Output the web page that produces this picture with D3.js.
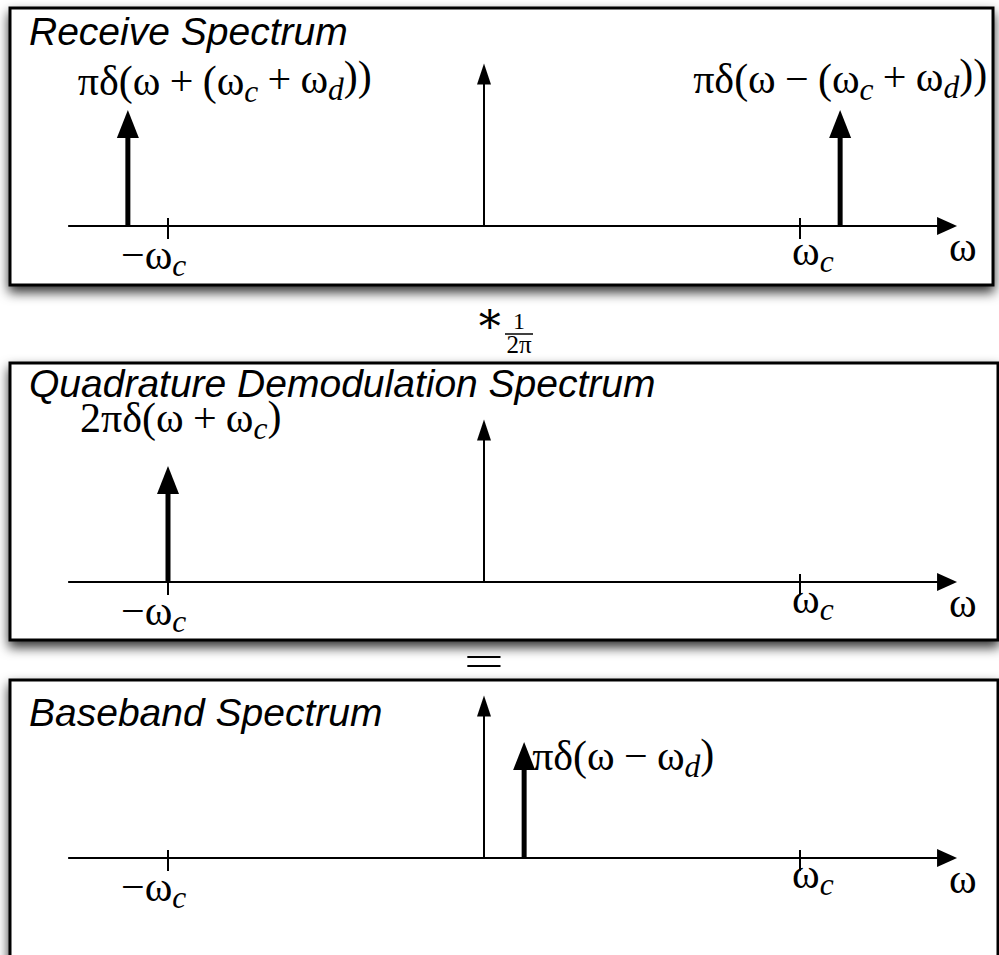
<!DOCTYPE html>
<html>
<head>
<meta charset="utf-8">
<script src="https://cdn.jsdelivr.net/npm/d3@7"></script>
<style>
  body { margin: 0; background: #fff; }
  svg { display: block; }
  .title { font-family: "Liberation Sans", Arial, sans-serif; font-style: italic; font-size: 39px; }
  .math { font-family: "Liberation Serif", "Times New Roman", serif; font-size: 42px; }
</style>
</head>
<body>
<svg id="chart"></svg>
<script>
// values (omega in units of omega_c)
const panelTitles = ["Receive Spectrum", "Quadrature Demodulation Spectrum", "Baseband Spectrum"];
const impulsePositions = [[-1.127, 1.127], [-1], [0.127]];
const impulseHeights = [[1, 1], [1], [1]];
const impulseLabels = [
  ["πδ(ω + (ω_c + ω_d))", "πδ(ω − (ω_c + ω_d))"],
  ["2πδ(ω + ω_c)"],
  ["πδ(ω − ω_d)"]
];
const tickValues = [-1, 1];
const tickLabels = ["−ω_c", "ω_c"];
const omegaExtent = [-1.316, 1.497];
const yAxisTop = 1.4;

const width = 999;
const height = 955;

// layout of each panel box
const panels = [
  { top: 8, bottom: 285, right: 993, axisY: 226, titleY: 45, subTickDy: 39, labelOff: [{ anchor: "start", dx: -50, dy: -15 }, { anchor: "end", dx: 147, dy: -17 }] },
  { top: 363, bottom: 640, right: 998, axisY: 582, titleY: 397, subTickDy: 31, labelOff: [{ anchor: "start", dx: -88, dy: -34 }] },
  { top: 680, bottom: 1000, right: 998, axisY: 858, titleY: 726, subTickDy: 30, labelOff: [{ anchor: "start", dx: 8, dy: 28 }] }
];

const x = d3.scaleLinear().domain([-1, 1]).range([168, 800]);

const svg = d3.select("#chart").attr("width", width).attr("height", height);

const defs = svg.append("defs");
const shadow = defs.append("filter").attr("id", "shadow")
  .attr("x", "-5%").attr("y", "-10%").attr("width", "110%").attr("height", "130%");
shadow.append("feDropShadow")
  .attr("dx", 0).attr("dy", 6).attr("stdDeviation", 6)
  .attr("flood-color", "#000").attr("flood-opacity", 0.8);

// write "a_b" as a with italic subscript b, and pad binary operators
function mathText(sel, str) {
  const parts = str.split(/(_[a-z]| [+−] )/).filter(s => s.length);
  let dy = 0, dx = 0;
  parts.forEach(p => {
    let t;
    if (p[0] === "_") {
      t = sel.append("tspan").attr("font-style", "italic").attr("font-size", "0.75em")
        .attr("dy", `${0.22 + dy}em`).text(p.slice(1));
      if (dx) t.attr("dx", `${dx}em`);
      dy = -0.22; dx = 0;
      return;
    }
    if (p[0] === " ") {
      t = sel.append("tspan").attr("dx", `${0.22 + dx}em`).text(p.trim());
      if (dy) t.attr("dy", `${dy}em`);
      dy = 0; dx = 0.22;
      return;
    }
    t = sel.append("tspan").text(p);
    if (dy) t.attr("dy", `${dy}em`);
    if (dx) t.attr("dx", `${dx}em`);
    dy = 0; dx = 0;
  });
  return sel;
}

function arrowHead(g, cx, tipY, w, h) {
  g.append("path")
    .attr("d", `M${cx},${tipY}L${cx - w / 2},${tipY + h}L${cx + w / 2},${tipY + h}Z`)
    .attr("fill", "#000");
}

panels.forEach((p, i) => {
  const g = svg.append("g");
  const y = d3.scaleLinear().domain([0, 1]).range([p.axisY, p.axisY - 116]);

  g.append("rect")
    .attr("x", 10).attr("y", p.top)
    .attr("width", p.right - 10).attr("height", p.bottom - p.top)
    .attr("fill", "#fff").attr("stroke", "#000").attr("stroke-width", 3)
    .attr("filter", "url(#shadow)");

  g.append("text").attr("class", "title")
    .attr("x", 29).attr("y", p.titleY).text(panelTitles[i]);

  // frequency axis
  const x0 = x(omegaExtent[0]), x1 = x(omegaExtent[1]);
  g.append("line")
    .attr("x1", x0).attr("x2", x1 - 10)
    .attr("y1", p.axisY).attr("y2", p.axisY)
    .attr("stroke", "#000").attr("stroke-width", 2);
  g.append("path")
    .attr("d", `M${x1},${p.axisY}L${x1 - 20},${p.axisY - 9}L${x1 - 20},${p.axisY + 9}Z`)
    .attr("fill", "#000");
  mathText(g.append("text").attr("class", "math")
    .attr("x", x1 - 8).attr("y", p.axisY + 35), "ω");

  // vertical axis at omega = 0
  const yTop = y(yAxisTop);
  g.append("line")
    .attr("x1", x(0)).attr("x2", x(0))
    .attr("y1", p.axisY).attr("y2", yTop + 15)
    .attr("stroke", "#000").attr("stroke-width", 2);
  arrowHead(g, x(0), yTop, 14, 21);

  // ticks
  tickValues.forEach((t, k) => {
    g.append("line")
      .attr("x1", x(t)).attr("x2", x(t))
      .attr("y1", p.axisY - 8).attr("y2", p.axisY + 13)
      .attr("stroke", "#000").attr("stroke-width", 2);
    mathText(g.append("text").attr("class", "math")
      .attr("x", x(t) + (t < 0 ? -47 : -8))
      .attr("y", p.axisY + (t < 0 ? 43 : p.subTickDy)), tickLabels[k]);
  });

  // impulses
  impulsePositions[i].forEach((v, k) => {
    const cx = x(v);
    const tip = y(impulseHeights[i][k]);
    g.append("line")
      .attr("x1", cx).attr("x2", cx)
      .attr("y1", p.axisY + 1).attr("y2", tip + 20)
      .attr("stroke", "#000").attr("stroke-width", 5);
    arrowHead(g, cx, tip, 22, 28);
    const off = p.labelOff[k];
    mathText(g.append("text").attr("class", "math")
      .attr("text-anchor", off.anchor)
      .attr("x", cx + off.dx).attr("y", tip + off.dy), impulseLabels[i][k]);
  });
});

// operators between the panels
const ops = svg.append("g").attr("class", "math");
ops.append("text").attr("x", 490).attr("y", 333).attr("text-anchor", "middle")
  .attr("font-family", "'DejaVu Serif', serif").attr("font-size", 44).text("∗");
ops.append("text").attr("x", 519).attr("y", 329).attr("text-anchor", "middle")
  .attr("font-size", 24).text("1");
ops.append("line").attr("x1", 505).attr("x2", 533).attr("y1", 334).attr("y2", 334)
  .attr("stroke", "#000").attr("stroke-width", 1.5);
ops.append("text").attr("x", 519).attr("y", 353).attr("text-anchor", "middle")
  .attr("font-size", 25).text("2π");
ops.append("text").attr("text-anchor", "middle")
  .attr("transform", "translate(484,675) scale(1.7,1)")
  .attr("font-size", 42).text("=");
</script>
</body>
</html>
